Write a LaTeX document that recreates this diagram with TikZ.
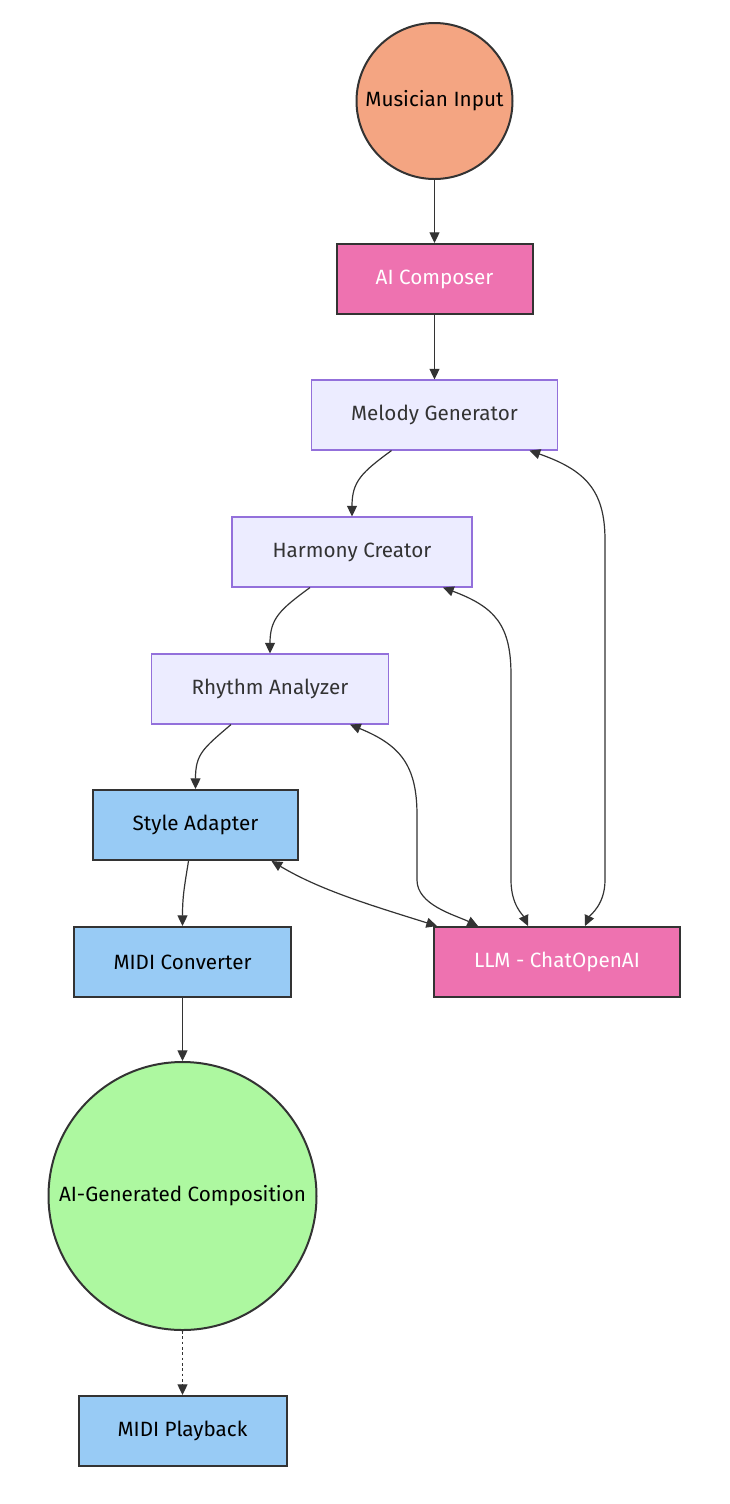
\documentclass[tikz,border=0pt]{standalone}
\usepackage{fontspec}
\setmainfont{Fira Sans}
\usetikzlibrary{arrows.meta,calc,shapes}

\definecolor{inputcol}{HTML}{F4A582}
\definecolor{agentcol}{HTML}{EE72B0}
\definecolor{taskfill}{HTML}{ECECFF}
\definecolor{taskline}{HTML}{9370DB}
\definecolor{toolcol}{HTML}{98CBF5}
\definecolor{outcol}{HTML}{ADF8A0}
\definecolor{inkgray}{HTML}{333333}

\begin{document}
\begin{tikzpicture}
[x=0.75pt,y=-0.75pt,
 >={Triangle[length=8pt,width=7.5pt]},
 base/.style={draw=inkgray,line width=1.5pt,inner sep=0pt,align=center},
 start/.style={base,circle,fill=inputcol,minimum size=117pt},
 finish/.style={base,circle,fill=outcol,minimum size=201pt},
 agent/.style={base,rectangle,fill=agentcol,text=white,minimum height=52.5pt},
 task/.style={base,rectangle,fill=taskfill,draw=taskline,line width=0.8pt,text=inkgray,minimum height=52.5pt},
 tool/.style={base,rectangle,fill=toolcol,minimum height=52.5pt},
 link/.style={->,draw=inkgray,line width=0.9pt},
 both/.style={<->,draw=inkgray,line width=0.9pt}]
\fontsize{15.5}{18}\selectfont
\useasboundingbox (0,0) rectangle (729,1504);

% nodes
\node[start] (musician) at (434.5,101) {Musician Input};
\node[agent,minimum width=147pt] (composer) at (434.5,279) {AI Composer};
\node[task,minimum width=184.5pt] (melody) at (434.5,415) {Melody Generator};
\node[task,minimum width=180pt] (harmony) at (352,552) {Harmony Creator};
\node[task,minimum width=177.75pt] (rhythm) at (270,689) {Rhythm Analyzer};
\node[tool,minimum width=153.75pt] (style) at (195.5,825) {Style Adapter};
\node[tool,minimum width=162.75pt] (converter) at (182.5,962) {MIDI Converter};
\node[agent,minimum width=184.5pt] (llm) at (557,962) {LLM - ChatOpenAI};
\node[finish] (composition) at (182.5,1196) {AI-Generated Composition};
\node[tool,minimum width=156pt] (playback) at (182.5,1431) {MIDI Playback};

% main chain
\draw[link] (musician.south) -- (composer.north);
\draw[link] (composer.south) -- (melody.north);
\draw[link] ($(melody.south)+(-43,0)$) .. controls ($(melody.south)+(-73,22)$) and ($(harmony.north)+(0,-35)$) .. (harmony.north);
\draw[link] ($(harmony.south)+(-42,0)$) .. controls ($(harmony.south)+(-72,22)$) and ($(rhythm.north)+(0,-35)$) .. (rhythm.north);
\draw[link] ($(rhythm.south)+(-39,0)$) .. controls ($(rhythm.south)+(-67,24)$) and ($(style.north)+(0,-35)$) .. (style.north);
\draw[link] ($(style.south)+(-7,0)$) .. controls ($(style.south)+(-11,25)$) and ($(converter.north)+(0,-30)$) .. (converter.north);
\draw[link] (converter.south) -- (composition.north);
\draw[link,dash pattern=on 2pt off 2pt] (composition.south) -- (playback.north);

% llm calls
\draw[both] ($(melody.south)+(95,0)$) .. controls (585,470) and (605,490) .. (605,540) -- (605,880) .. controls (605,905) and (590,915) .. ($(llm.north)+(28,0)$);
\draw[both] ($(harmony.south)+(91,0)$) .. controls (495,607) and (511,625) .. (511,675) -- (511,880) .. controls (511,905) and (523,915) .. ($(llm.north)+(-29,0)$);
\draw[both] ($(rhythm.south)+(80,0)$) .. controls (400,745) and (417,765) .. (417,815) -- (417,880) .. controls (417,905) and (455,915) .. ($(llm.north)+(-79,0)$);
\draw[both] ($(style.south)+(76,0)$) .. controls (320,890) and (370,905) .. ($(llm.north west)+(4,0)$);
\end{tikzpicture}
\end{document}
